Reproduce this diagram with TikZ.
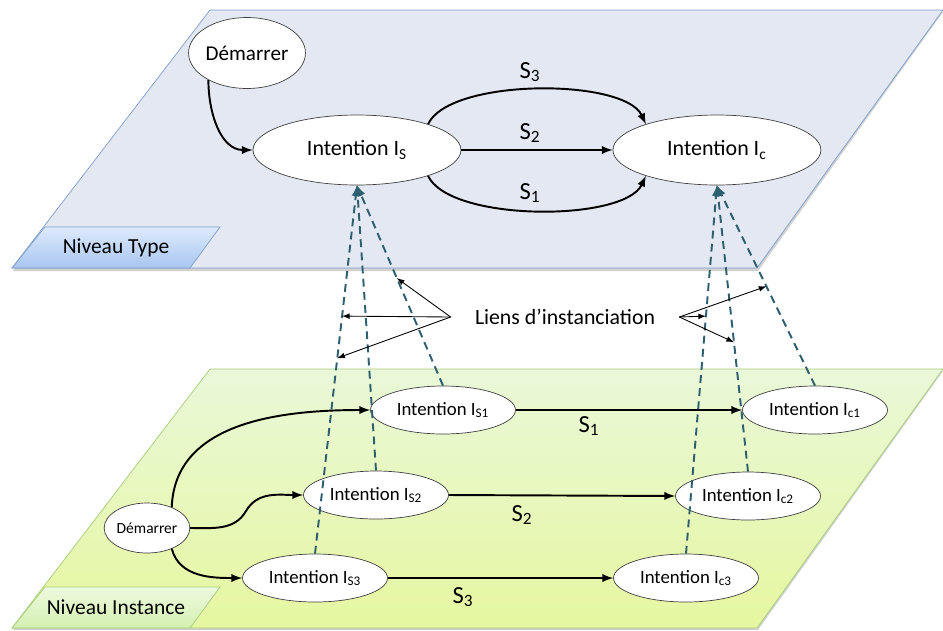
\documentclass[tikz,border=0pt]{standalone}
\usepackage{fontspec}
\setmainfont{Carlito}
\usetikzlibrary{shapes.geometric, arrows, positioning}
\definecolor{typefill}{RGB}{228,232,242}
\definecolor{typeline}{RGB}{125,158,205}
\definecolor{tabtop}{RGB}{222,234,252}
\definecolor{tabbot}{RGB}{168,198,240}
\definecolor{instfill}{RGB}{224,245,200}
\definecolor{instline}{RGB}{165,205,120}
\definecolor{itabtop}{RGB}{238,250,222}
\definecolor{itabbot}{RGB}{212,240,178}
\definecolor{linkcol}{RGB}{45,95,112}
\tikzstyle{intention} = [ellipse, draw=black!75, fill=white, inner sep=0pt, minimum width=4.16cm, minimum height=1.4cm, font=\fontsize{12.5}{15}\selectfont]
\tikzstyle{instance} = [ellipse, draw=black!75, fill=white, inner sep=0pt, minimum width=2.9cm, minimum height=0.96cm, font=\fontsize{10.7}{13}\selectfont]
\tikzstyle{arrow} = [line width=1.1pt,->,>=latex]
\tikzstyle{link} = [draw=linkcol, line width=1.1pt, dash pattern=on 4.5pt off 3pt, ->, >=latex]
\tikzstyle{pointer} = [line width=0.5pt,->,>=latex]
\tikzstyle{slabel} = [font=\fontsize{14}{16}\selectfont]

\begin{document}
\begin{tikzpicture}[x=0.02cm, y=-0.02cm, node distance=2cm]
\useasboundingbox (0,0) rectangle (943,630);

% Planes
\fill[black!18] (211,12) -- (943,12) -- (758,271) -- (13,271) -- cycle;
\draw[typeline, fill=typefill] (210,10) -- (943,10) -- (757,268) -- (12,268) -- cycle;
\fill[black!18] (211,371) -- (943,371) -- (758,630) -- (13,630) -- cycle;
\draw[instline, top color=instfill!70!white, bottom color=instfill!80!yellow] (210,369) -- (943,369) -- (757,628) -- (12,628) -- cycle;

% Level tabs
\draw[typeline, top color=tabtop, bottom color=tabbot] (12,268) -- (45,227) -- (220,227) -- (190,268) -- cycle;
\node (niveautype) at (116,248) [font=\fontsize{12.2}{14}\selectfont] {Niveau Type};
\draw[instline, top color=itabtop, bottom color=itabbot] (12,628) -- (45,587) -- (220,587) -- (190,628) -- cycle;
\node (niveauinst) at (116,607) [font=\fontsize{12.2}{14}\selectfont] {Niveau Instance};

% Type level
\node (dem) at (247,53) [ellipse, draw=black!75, fill=white, inner sep=0pt, minimum width=2.16cm, minimum height=1.42cm, font=\fontsize{12}{14}\selectfont] {Démarrer};
\node (is) at (357,150) [intention] {Intention I\textsubscript{S}};
\node (ic) [intention, right of=is, xshift=5.2cm] {Intention I\textsubscript{c}};

\draw [arrow] (dem.215) to[out=-90, in=180] (is.west);
\draw [arrow] (is.20) to[out=65, in=115, looseness=0.6] (ic.160);
\draw [arrow] (is.east) -- (ic.west);
\draw [arrow] (is.-20) to[out=-65, in=-115, looseness=0.6] (ic.200);
\node (ts3) at (530,72) [slabel] {S\textsubscript{3}};
\node (ts2) at (530,133) [slabel] {S\textsubscript{2}};
\node (ts1) at (530,193) [slabel] {S\textsubscript{1}};

% Instance level
\node (dem2) at (147,528) [ellipse, draw=black!75, fill=white, inner sep=0pt, minimum width=1.56cm, minimum height=1cm, font=\fontsize{8.8}{10}\selectfont] {Démarrer};
\node (is1) at (443,410) [instance] {Intention I\textsubscript{S1}};
\node (is2) at (376,495) [instance] {Intention I\textsubscript{S2}};
\node (is3) at (315,578) [instance] {Intention I\textsubscript{S3}};
\node (ic1) at (815,410) [instance] {Intention I\textsubscript{c1}};
\node (ic2) at (748,496) [instance] {Intention I\textsubscript{c2}};
\node (ic3) at (686,578) [instance] {Intention I\textsubscript{c3}};
\coordinate (bump) at (246,511);

\draw [arrow] (dem2.40) to[out=88, in=180] (is1.west);
\draw [arrow] (dem2.east) to[out=0, in=-120] (bump) to[out=60, in=180] (is2.west);
\draw [arrow] (dem2.-40) to[out=-75, in=180] (is3.west);
\draw [arrow] (is1.east) -- (ic1.west);
\draw [arrow] (is2.east) -- (ic2.west);
\draw [arrow] (is3.east) -- (ic3.west);
\node (bs1) at (589,426) [slabel] {S\textsubscript{1}};
\node (bs2) at (522,515) [slabel] {S\textsubscript{2}};
\node (bs3) at (463,597) [slabel] {S\textsubscript{3}};

% Instantiation links
\draw [link] (is1.north) -- coordinate[pos=0.537] (ms1) (is.south);
\draw [link] (is2.north) -- (is.south);
\draw [link] (is3.north) -- coordinate[pos=0.645] (ms3a) coordinate[pos=0.531] (ms3b) (is.south);
\draw [link] (ic1.north) -- coordinate[pos=0.496] (mc1) (ic.south);
\draw [link] (ic2.north) -- coordinate[pos=0.452] (mc2) (ic.south);
\draw [link] (ic3.north) -- coordinate[pos=0.645] (mc3) (ic.south);

\node (liens) at (565,317) [inner xsep=0.48cm, font=\fontsize{12.4}{14}\selectfont] {Liens d’instanciation};
\draw [pointer] (liens.west) -- (ms1);
\draw [pointer] (liens.west) -- (ms3a);
\draw [pointer] (liens.west) -- (ms3b);
\draw [pointer] (liens.east) -- (mc1);
\draw [pointer] (liens.east) -- (mc3);
\draw [pointer] (liens.east) -- (mc2);

\end{tikzpicture}
\end{document}
